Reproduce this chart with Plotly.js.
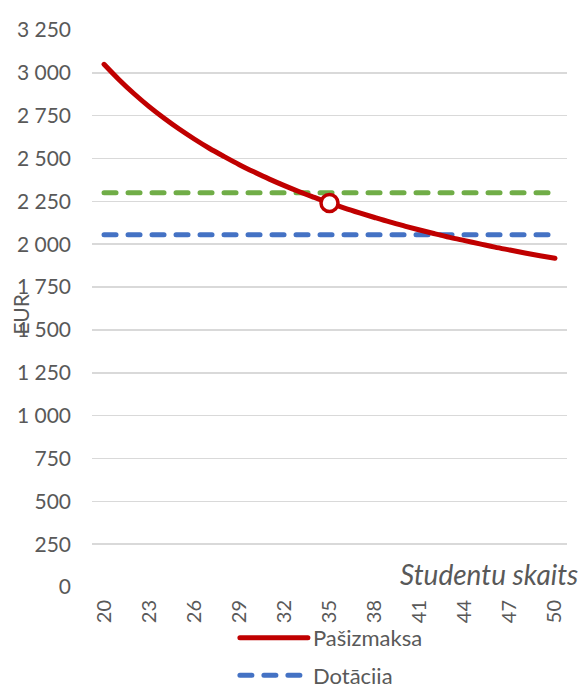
<!DOCTYPE html>
<html>
<head>
<meta charset="utf-8">
<script src="https://cdn.plot.ly/plotly-3.0.1.min.js"></script>
<style>
html,body{margin:0;padding:0;background:#fff;}
#chart{width:580px;height:684px;}
.js-line{stroke-linecap:round;}
.legendlines path{stroke-linecap:round;}
</style>
</head>
<body>
<div id="chart"></div>
<script>
// Number of students
const students = [20,21,22,23,24,25,26,27,28,29,30,31,32,33,34,35,36,37,38,39,40,41,42,43,44,45,46,47,48,49,50];
// Cost per student (Pašizmaksa), EUR
const costPerStudent = [3050,2960,2878,2803,2735,2672,2614,2560,2511,2464,2421,2380,2342,2306,2273,2241,2211,2183,2156,2130,2106,2083,2061,2040,2021,2002,1983,1966,1949,1933,1918];
// Subsidy (Dotācija), EUR
const subsidy = [2055,2055,2055,2055,2055,2055,2055,2055,2055,2055,2055,2055,2055,2055,2055,2055,2055,2055,2055,2055,2055,2055,2055,2055,2055,2055,2055,2055,2055,2055,2055];
// Third (green) level, EUR
const greenLevel = [2300,2300,2300,2300,2300,2300,2300,2300,2300,2300,2300,2300,2300,2300,2300,2300,2300,2300,2300,2300,2300,2300,2300,2300,2300,2300,2300,2300,2300,2300,2300];
// Highlighted point
const markX = [35];
const markY = [2241];
// Tick labels
const xTickVals = [20,23,26,29,32,35,38,41,44,47,50];
const xTickText = ["20","23","26","29","32","35","38","41","44","47","50"];
const yTickVals = [0,250,500,750,1000,1250,1500,1750,2000,2250,2500,2750,3000,3250];
const yTickText = ["0","250","500","750","1 000","1 250","1 500","1 750","2 000","2 250","2 500","2 750","3 000","3 250"];

const FONT = "Lato, 'Open Sans', sans-serif";
const GREY = "#595959";

const traces = [
  {x: students, y: greenLevel, type: "scatter", mode: "lines", name: "", showlegend: false,
   line: {color: "#70ad47", width: 5, dash: "12px,12px"}, hoverinfo: "skip"},
  {x: students, y: subsidy, type: "scatter", mode: "lines", name: "Dotācija", legendgroup: "b", legendrank: 2,
   line: {color: "#4472c4", width: 5, dash: "12px,12px"}},
  {x: students, y: costPerStudent, type: "scatter", mode: "lines", name: "Pašizmaksa", legendgroup: "a", legendrank: 1,
   line: {color: "#c00000", width: 5, shape: "spline"}},
  {x: markX, y: markY, type: "scatter", mode: "markers", showlegend: false,
   marker: {symbol: "circle", size: 17, color: "#ffffff", line: {color: "#c00000", width: 3.5}}}
];

const layout = {
  width: 580, height: 684,
  margin: {l: 92, r: 13, t: 30, b: 97, autoexpand: false},
  paper_bgcolor: "#fff", plot_bgcolor: "#fff",
  font: {family: FONT, color: GREY, size: 20},
  showlegend: true,
  legend: {
    orientation: "v", x: 0.405, xanchor: "left", y: 0.098, yanchor: "top",
    xref: "container", yref: "container",
    font: {family: FONT, size: 22, color: GREY},
    itemwidth: 68, tracegroupgap: 6, bgcolor: "rgba(0,0,0,0)",
    traceorder: "grouped"
  },
  xaxis: {
    range: [19.2, 50.8], tickvals: xTickVals, ticktext: xTickText, tickangle: -90,
    showgrid: false, zeroline: false, showline: false, ticks: "", automargin: false,
    tickfont: {family: FONT, size: 20, color: GREY}, ticklabelstandoff: 8
  },
  yaxis: {
    range: [0, 3250], tickvals: yTickVals, ticktext: yTickText, automargin: false,
    showgrid: true, gridcolor: "#d9d9d9", gridwidth: 1.5, zeroline: false, showline: false, ticks: "",
    tickfont: {family: FONT, size: 21, color: GREY}, ticklabelstandoff: 20
  },
  annotations: [
    {text: "EUR", xref: "paper", yref: "paper", x: -0.152, y: 0.49, textangle: -90,
     showarrow: false, font: {family: FONT, size: 21, color: GREY}, xanchor: "center", yanchor: "middle"},
    {text: "<i>Studentu skaits</i>", xref: "paper", yref: "paper", x: 1.027, y: -0.01, xanchor: "right", yanchor: "bottom",
     showarrow: false, font: {family: FONT, size: 28, color: GREY}}
  ]
};

Plotly.newPlot("chart", traces, layout, {displayModeBar: false, staticPlot: true});
</script>
</body>
</html>
